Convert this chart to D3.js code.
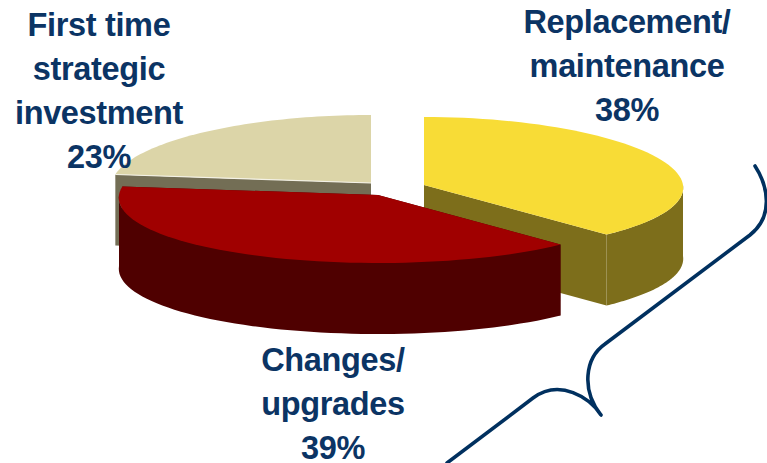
<!DOCTYPE html>
<html>
<head>
<meta charset="utf-8">
<style>
  html, body { margin: 0; padding: 0; background: #fff; }
  svg { display: block; }
  text { font-family: "Liberation Sans", Arial, sans-serif; font-weight: 700; fill: #0b3464; font-size: 32.5px; text-anchor: middle; letter-spacing: -0.35px; }
</style>
<script src="https://cdn.jsdelivr.net/npm/d3@7/dist/d3.min.js"></script>
</head>
<body>
<script>
// Share of spending by purpose, clockwise from twelve o'clock
const categories = ["Replacement/maintenance", "Changes/upgrades", "First time strategic investment"];
const shares = [38, 39, 23];
const topColors = ["#f8dc36", "#a00000", "#dcd5a8"];
const sideColors = ["#7d6e1b", "#4f0000", "#736e55"];
const labelLines = [
  ["Replacement/", "maintenance", "38%"],
  ["Changes/", "upgrades", "39%"],
  ["First time", "strategic", "investment", "23%"]
];

const width = 767, height = 463;
const rx = 259, ry = 68, depth = 71, perspective = 0.04;

// Each exploded wedge has its own apex on the page
const apexes = [[424, 185], [378, 195], [371, 183]];
const labelAnchors = [[627, 33], [333, 371], [99, 36]];
const lineStep = 44;

const svg = d3.select("body").append("svg").attr("width", width).attr("height", height);

const wedges = d3.pie().sort(null).value(d => d)(shares);

// Tilted-disc projection: nearer points spread a little wider
const project = (apex, a, r = 1, drop = 0) => {
  const spread = 1 - perspective * Math.cos(a) * r;
  return [
    apex[0] + rx * r * Math.sin(a) * spread,
    apex[1] - ry * r * Math.cos(a) + drop
  ];
};
const arcPoints = (apex, a0, a1, drop = 0) =>
  d3.range(0, 61).map(i => project(apex, a0 + (a1 - a0) * i / 60, 1, drop));
const line = d3.line();

// Back wedges first, the red wedge sits in front of the others
const paintOrder = [2, 0, 1];

paintOrder.forEach(i => {
  const w = wedges[i], apex = apexes[i];
  const g = svg.append("g").attr("class", "wedge");

  // Cut faces that turn toward the viewer
  [w.startAngle, w.endAngle].forEach(a => {
    const p = project(apex, a);
    const facing = Math.cos(a) < 0.5;
    if (!facing) return;
    g.append("path")
      .attr("d", line([apex, p, [p[0], p[1] + depth], [apex[0], apex[1] + depth]]) + "Z")
      .attr("fill", sideColors[i]);
  });

  // Outer rim, front half only
  const rimStart = Math.max(w.startAngle, Math.PI / 2);
  const rimEnd = Math.min(w.endAngle, Math.PI * 1.5);
  if (rimEnd > rimStart) {
    const upper = arcPoints(apex, rimStart, rimEnd);
    const lower = arcPoints(apex, rimStart, rimEnd, depth).reverse();
    g.append("path").attr("d", line(upper.concat(lower)) + "Z").attr("fill", sideColors[i]);
  }

  // Top face
  g.append("path")
    .attr("d", line([apex].concat(arcPoints(apex, w.startAngle, w.endAngle))) + "Z")
    .attr("fill", topColors[i]);
});

// Pale highlight along the beige wedge's lower edge
const beige = wedges[2];
svg.append("path")
  .attr("d", line([project(apexes[2], beige.startAngle), apexes[2]]))
  .attr("stroke", "#f4f2e6").attr("stroke-width", 1.2).attr("fill", "none");

// Category labels
labelLines.forEach((lines, i) => {
  const t = svg.append("text").attr("data-category", categories[i]);
  lines.forEach((s, k) => {
    t.append("tspan")
      .attr("x", labelAnchors[i][0])
      .attr("y", labelAnchors[i][1] + k * lineStep)
      .text(s);
  });
});

// Curly brace running off the lower edge
svg.append("path")
  .attr("d", "M755,166 C768,186 774,216 750,235 L605,344 C585,358 581,390 601,415 C590,398 560,378 533,398 L447,463")
  .attr("fill", "none")
  .attr("stroke", "#00305f")
  .attr("stroke-width", 3.6)
  .attr("stroke-linecap", "round")
  .attr("stroke-linejoin", "round");
</script>
</body>
</html>
